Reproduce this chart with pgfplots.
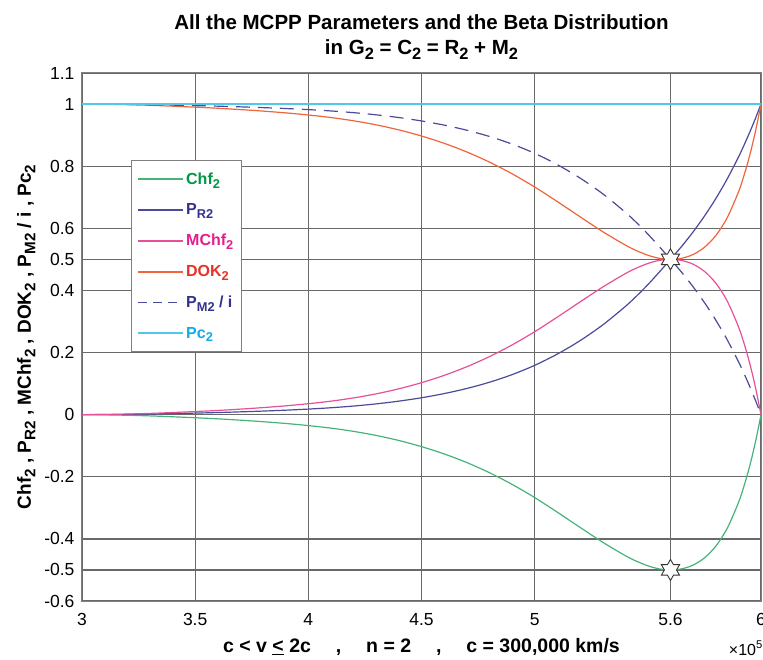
\documentclass[border=0pt]{standalone}
\usepackage{fontspec}
\setmainfont{Liberation Sans}
\usepackage{graphicx}
\usepackage{pgfplots}
\usepackage{pgfplotstable}
\pgfplotsset{compat=1.18}

\definecolor{cchf}{RGB}{70,180,120}
\definecolor{cchft}{RGB}{0,150,70}
\definecolor{cpr}{RGB}{75,75,155}
\definecolor{cprt}{RGB}{50,50,140}
\definecolor{cmchf}{RGB}{230,80,150}
\definecolor{cmchft}{RGB}{230,30,140}
\definecolor{cdok}{RGB}{240,100,60}
\definecolor{cdokt}{RGB}{230,50,40}
\definecolor{cpc}{RGB}{80,200,235}
\definecolor{cpct}{RGB}{20,170,230}
\definecolor{cgrid}{RGB}{105,105,105}

\newcommand\lo[1]{\raisebox{-0.45ex}{\scalebox{0.8}{#1}}}

\pgfdeclareplotmark{hexagram}{%
  \pgfpathmoveto{\pgfpointpolar{90}{\pgfplotmarksize}}%
  \pgfpathlineto{\pgfpointpolar{120}{0.577\pgfplotmarksize}}%
  \pgfpathlineto{\pgfpointpolar{150}{\pgfplotmarksize}}%
  \pgfpathlineto{\pgfpointpolar{180}{0.577\pgfplotmarksize}}%
  \pgfpathlineto{\pgfpointpolar{210}{\pgfplotmarksize}}%
  \pgfpathlineto{\pgfpointpolar{240}{0.577\pgfplotmarksize}}%
  \pgfpathlineto{\pgfpointpolar{270}{\pgfplotmarksize}}%
  \pgfpathlineto{\pgfpointpolar{300}{0.577\pgfplotmarksize}}%
  \pgfpathlineto{\pgfpointpolar{330}{\pgfplotmarksize}}%
  \pgfpathlineto{\pgfpointpolar{0}{0.577\pgfplotmarksize}}%
  \pgfpathlineto{\pgfpointpolar{30}{\pgfplotmarksize}}%
  \pgfpathlineto{\pgfpointpolar{60}{0.577\pgfplotmarksize}}%
  \pgfpathclose
  \pgfusepath{fill,stroke}%
}

\pgfplotstableread{
x      pr      pm      chf      mchf    dok
3.0    0.0000  1.0000  0.0000   0.0000  1.0000
3.1    0.0003  0.9997  -0.0006  0.0006  0.9994
3.2    0.0010  0.9990  -0.0020  0.0020  0.9980
3.3    0.0020  0.9980  -0.0040  0.0040  0.9960
3.4    0.0034  0.9966  -0.0068  0.0068  0.9932
3.5    0.0050  0.9950  -0.0100  0.0100  0.9900
3.6    0.0068  0.9932  -0.0135  0.0135  0.9865
3.7    0.0090  0.9910  -0.0178  0.0178  0.9822
3.8    0.0115  0.9885  -0.0227  0.0227  0.9773
3.9    0.0144  0.9856  -0.0284  0.0284  0.9716
4.0    0.0179  0.9821  -0.0352  0.0352  0.9648
4.1    0.0222  0.9778  -0.0434  0.0434  0.9566
4.2    0.0277  0.9723  -0.0539  0.0539  0.9461
4.3    0.0347  0.9653  -0.0670  0.0670  0.9330
4.4    0.0435  0.9565  -0.0832  0.0832  0.9168
4.5    0.0544  0.9456  -0.1029  0.1029  0.8971
4.6    0.0678  0.9322  -0.1264  0.1264  0.8736
4.7    0.0842  0.9158  -0.1542  0.1542  0.8458
4.8    0.1043  0.8957  -0.1868  0.1868  0.8132
4.9    0.1288  0.8712  -0.2244  0.2244  0.7756
5.0    0.1587  0.8413  -0.2670  0.2670  0.7330
5.1    0.1950  0.8050  -0.3140  0.3140  0.6860
5.2    0.2380  0.7620  -0.3627  0.3627  0.6373
5.3    0.2885  0.7115  -0.4105  0.4105  0.5895
5.4    0.3480  0.6520  -0.4538  0.4538  0.5462
5.45   0.3817  0.6183  -0.4720  0.4720  0.5280
5.5    0.4185  0.5815  -0.4867  0.4867  0.5133
5.55   0.4585  0.5415  -0.4966  0.4966  0.5034
5.6    0.5000  0.5000  -0.5000  0.5000  0.5000
5.65   0.5422  0.4578  -0.4964  0.4964  0.5036
5.7    0.5884  0.4116  -0.4844  0.4844  0.5156
5.75   0.6391  0.3609  -0.4613  0.4613  0.5387
5.8    0.6953  0.3047  -0.4237  0.4237  0.5763
5.85   0.7580  0.2420  -0.3669  0.3669  0.6331
5.9    0.8287  0.1713  -0.2839  0.2839  0.7161
5.925  0.8676  0.1324  -0.2297  0.2297  0.7703
5.95   0.9089  0.0911  -0.1656  0.1656  0.8344
5.975  0.9530  0.0470  -0.0896  0.0896  0.9104
6.0    1.0000  0.0000  0.0000   0.0000  1.0000
}\datatable

\begin{document}
\begin{tikzpicture}
\begin{axis}[
  name=ax,
  scale only axis,
  width=679pt, height=528pt,
  xmin=3, xmax=6, ymin=-0.6, ymax=1.1,
  xtick={3,3.5,4,4.5,5,5.6,6},
  xticklabels={3,3.5,4,4.5,5,5.6,6},
  ytick={-0.6,-0.5,-0.4,-0.2,0,0.2,0.4,0.5,0.6,0.8,1,1.1},
  yticklabels={-0.6,-0.5,-0.4,-0.2,0,0.2,0.4,0.5,0.6,0.8,1,1.1},
  tick label style={font=\fontsize{17.5}{20}\selectfont},
  xticklabel style={yshift=-9pt},
  yticklabel style={xshift=-4pt},
  tick style={draw=none},
  xtick pos=bottom, ytick pos=left,
  grid=major,
  major grid style={draw=cgrid, line width=1.3pt},
  axis line style={draw=gray, line width=1pt},
  title={All the MCPP Parameters and the Beta Distribution\\in G\lo{2} = C\lo{2} = R\lo{2} + M\lo{2}},
  title style={align=center, font=\bfseries\fontsize{20.5}{25}\selectfont, yshift=4pt},
  xlabel={c < v \underline{<} 2c \quad , \quad n = 2 \quad , \quad c = 300,000 km/s},
  xlabel style={font=\bfseries\fontsize{19.5}{22}\selectfont, yshift=-6pt},
  ylabel={Chf\lo{2} , P\lo{R2} , MChf\lo{2} , DOK\lo{2} , P\lo{M2} / i , Pc\lo{2}},
  ylabel style={font=\bfseries\fontsize{19}{22}\selectfont},
  ylabel shift=2pt,
  legend style={at={(0.072,0.835)}, anchor=north west, draw=gray, line width=1pt,
    fill=white, font=\bfseries\fontsize{16}{19}\selectfont, row sep=14pt,
    inner xsep=6pt, inner ysep=10pt, cells={anchor=west}},
  every axis plot/.append style={line width=1.2pt},
]
\addplot[draw=cchf, smooth, tension=0.5,
  legend image code/.code={\draw[draw=cchf, line width=1.8pt] (0pt,0pt) -- (45pt,0pt);}]
  table[x=x, y=chf] {\datatable};
\addlegendentry{\textcolor{cchft}{Chf\lo{2}}}
\addplot[draw=cpr, smooth, tension=0.5,
  legend image code/.code={\draw[draw=cpr, line width=1.8pt] (0pt,0pt) -- (45pt,0pt);}]
  table[x=x, y=pr] {\datatable};
\addlegendentry{\textcolor{cprt}{P\lo{R2}}}
\addplot[draw=cmchf, smooth, tension=0.5,
  legend image code/.code={\draw[draw=cmchf, line width=1.8pt] (0pt,0pt) -- (45pt,0pt);}]
  table[x=x, y=mchf] {\datatable};
\addlegendentry{\textcolor{cmchft}{MChf\lo{2}}}
\addplot[draw=cdok, smooth, tension=0.5,
  legend image code/.code={\draw[draw=cdok, line width=1.8pt] (0pt,0pt) -- (45pt,0pt);}]
  table[x=x, y=dok] {\datatable};
\addlegendentry{\textcolor{cdokt}{DOK\lo{2}}}
\addplot[draw=cpr, smooth, tension=0.5, dash pattern=on 14pt off 8pt,
  legend image code/.code={\draw[draw=cpr, line width=1.8pt, dash pattern=on 9pt off 6pt] (0pt,0pt) -- (45pt,0pt);}]
  table[x=x, y=pm] {\datatable};
\addlegendentry{\textcolor{cprt}{P\lo{M2} / i}}
\addplot[draw=cpc,
  legend image code/.code={\draw[draw=cpc, line width=1.8pt] (0pt,0pt) -- (45pt,0pt);}]
  coordinates {(3,1) (6,1)};
\addlegendentry{\textcolor{cpct}{Pc\lo{2}}}
\addplot[only marks, mark=hexagram, mark size=10.5pt,
  mark options={draw=black!80, fill=white, line width=0.9pt}, forget plot]
  coordinates {(5.6,0.5) (5.6,-0.5)};
\end{axis}
\node[anchor=north east, font=\fontsize{16}{18}\selectfont, inner sep=0pt]
  at ([xshift=2pt,yshift=-40pt]ax.south east) {×10\textsuperscript{5}};
\pgfresetboundingbox
\path[use as bounding box] ([xshift=-82pt,yshift=-58pt]ax.south west) rectangle ([xshift=2pt,yshift=73pt]ax.north east);
\end{tikzpicture}
\end{document}
